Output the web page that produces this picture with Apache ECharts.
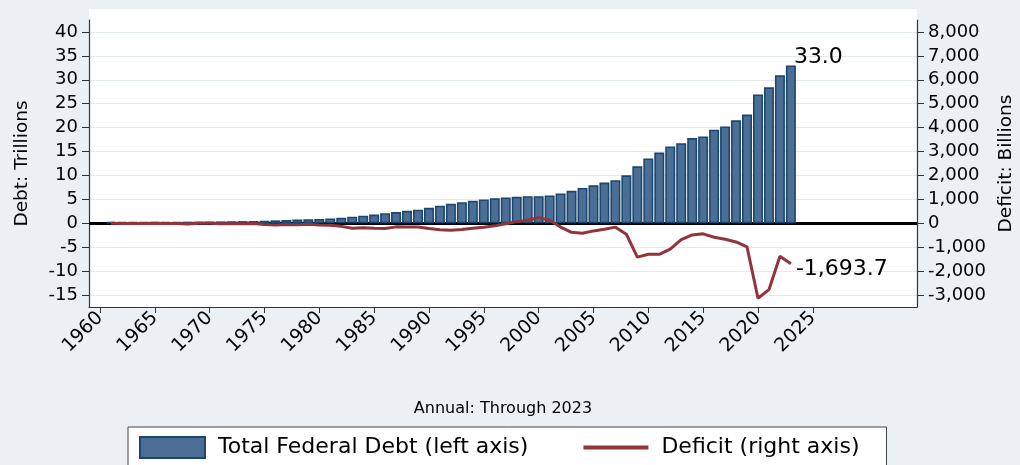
<!DOCTYPE html>
<html>
<head>
<meta charset="utf-8">
<script src="https://cdn.jsdelivr.net/npm/echarts@6/dist/echarts.min.js"></script>
<style>
  html, body { margin: 0; padding: 0; background: #eaf0f3; }
  #chart { width: 1020px; height: 465px; }
</style>
</head>
<body>
<div id="chart"></div>
<script>
  // 数据
  const years = [1961, 1962, 1963, 1964, 1965, 1966, 1967, 1968, 1969, 1970,
    1971, 1972, 1973, 1974, 1975, 1976, 1977, 1978, 1979, 1980,
    1981, 1982, 1983, 1984, 1985, 1986, 1987, 1988, 1989, 1990,
    1991, 1992, 1993, 1994, 1995, 1996, 1997, 1998, 1999, 2000,
    2001, 2002, 2003, 2004, 2005, 2006, 2007, 2008, 2009, 2010,
    2011, 2012, 2013, 2014, 2015, 2016, 2017, 2018, 2019, 2020,
    2021, 2022, 2023];
  // 债务（万亿）
  const debt = [0.289, 0.298, 0.306, 0.312, 0.317, 0.320, 0.326, 0.348, 0.354, 0.371,
    0.398, 0.427, 0.458, 0.475, 0.533, 0.620, 0.699, 0.772, 0.827, 0.908,
    0.998, 1.142, 1.377, 1.572, 1.823, 2.125, 2.350, 2.602, 2.857, 3.233,
    3.665, 4.065, 4.411, 4.693, 4.974, 5.225, 5.413, 5.526, 5.656, 5.674,
    5.807, 6.228, 6.783, 7.379, 7.933, 8.507, 9.008, 10.025, 11.910, 13.562,
    14.790, 16.066, 16.738, 17.824, 18.151, 19.573, 20.245, 21.516, 22.719, 26.945,
    28.429, 30.929, 33.0];
  // 赤字（十亿）
  const deficit = [-3.3, -7.1, -4.8, -5.9, -1.4, -3.7, -8.6, -25.2, 3.2, -2.8,
    -23.0, -23.4, -14.9, -6.1, -53.2, -73.7, -53.7, -59.2, -40.7, -73.8,
    -79.0, -128.0, -207.8, -185.4, -212.3, -221.2, -149.7, -155.2, -152.6, -221.0,
    -269.2, -290.3, -255.1, -203.2, -164.0, -107.4, -21.9, 69.3, 125.6, 236.2,
    128.2, -157.8, -377.6, -412.7, -318.3, -248.2, -160.7, -458.6, -1412.7, -1294.4,
    -1299.6, -1076.6, -679.5, -484.6, -442.0, -584.7, -665.8, -779.1, -983.6, -3132.5,
    -2775.3, -1375.9, -1693.7];
  const yearTicks = [1960, 1965, 1970, 1975, 1980, 1985, 1990, 1995, 2000, 2005, 2010, 2015, 2020, 2025];
  const debtTicks = [-15, -10, -5, 0, 5, 10, 15, 20, 25, 30, 35, 40];
  const deficitTicks = [-3000, -2000, -1000, 0, 1000, 2000, 3000, 4000, 5000, 6000, 7000, 8000];

  const font = 'DejaVu Sans';
  const last = years.length - 1;
  const fmtNum = (v) => v.toLocaleString('en-US', { minimumFractionDigits: 1, maximumFractionDigits: 1 });

  const myChart = echarts.init(document.getElementById('chart'));
  const option = {
    backgroundColor: '#eaf0f3',
    animation: false,
    textStyle: { fontFamily: font },
    graphic: [
      {
        type: 'rect',
        z: -10,
        silent: true,
        shape: { x: 89, y: 9, width: 828, height: 298 },
        style: { fill: '#ffffff' },
      },
    ],
    grid: {
      left: 89,
      right: 103,
      top: 20,
      bottom: 158,
      outerBoundsMode: 'none',
    },
    xAxis: {
      type: 'value',
      min: 1959,
      max: 2034.5,
      name: 'Annual: Through 2023',
      nameLocation: 'middle',
      nameGap: 94,
      nameTextStyle: { fontSize: 16, color: '#000', fontFamily: font },
      axisLine: { show: true, onZero: false, lineStyle: { color: '#333', width: 1.2 } },
      axisTick: { show: true, customValues: yearTicks, length: 6, lineStyle: { color: '#333' } },
      axisLabel: {
        customValues: yearTicks,
        rotate: 45,
        fontSize: 19,
        margin: 8,
        color: '#000',
        fontFamily: font,
        formatter: (v) => String(v),
      },
      splitLine: { show: false },
    },
    yAxis: [
      {
        type: 'value',
        position: 'left',
        min: -17.5,
        max: 42.5,
        name: 'Debt: Trillions',
        nameLocation: 'middle',
        nameRotate: 90,
        nameGap: 57,
        nameTextStyle: { fontSize: 18.5, color: '#000', fontFamily: font },
        axisLine: { show: true, lineStyle: { color: '#333', width: 1.2 } },
        axisTick: { show: true, customValues: debtTicks, length: 7, lineStyle: { color: '#333' } },
        axisLabel: { customValues: debtTicks, fontSize: 18, margin: 11, color: '#000', fontFamily: font },
        splitLine: { show: true, lineStyle: { color: '#e3eaee', width: 1 } },
      },
      {
        type: 'value',
        position: 'right',
        min: -3500,
        max: 8500,
        name: 'Deficit: Billions',
        nameLocation: 'middle',
        nameRotate: 90,
        nameGap: 80,
        nameTextStyle: { fontSize: 18.5, color: '#000', fontFamily: font },
        axisLine: { show: true, lineStyle: { color: '#333', width: 1.2 } },
        axisTick: { show: true, customValues: deficitTicks, length: 7, lineStyle: { color: '#333' } },
        axisLabel: {
          customValues: deficitTicks,
          fontSize: 18,
          margin: 11,
          color: '#000',
          fontFamily: font,
          formatter: (v) => v.toLocaleString('en-US'),
        },
        splitLine: { show: false },
      },
    ],
    legend: {
      left: 128,
      top: 427,
      orient: 'horizontal',
      padding: [9, 27, 12, 11],
      backgroundColor: '#ffffff',
      borderColor: '#444',
      borderWidth: 1,
      borderRadius: 0,
      itemWidth: 65,
      itemHeight: 21,
      itemGap: 53,
      textStyle: { fontSize: 22, color: '#000', fontFamily: font, padding: [0, 0, 0, 8] },
      data: [
        { name: 'Total Federal Debt (left axis)', icon: 'rect' },
        { name: 'Deficit (right axis)', itemStyle: { opacity: 0 }, lineStyle: { width: 4 } },
      ],
    },
    series: [
      {
        name: 'Total Federal Debt (left axis)',
        type: 'bar',
        yAxisIndex: 0,
        z: 2,
        barWidth: 10,
        data: years.map((y, i) => [y, debt[i]]),
        itemStyle: { color: '#4c6e94', borderColor: '#1a476f', borderWidth: 1.6 },
        label: {
          show: true,
          position: ['100%', 0],
          align: 'left',
          verticalAlign: 'middle',
          offset: [-2, -8],
          fontSize: 22,
          color: '#000',
          fontFamily: font,
          formatter: (p) => (p.dataIndex === last ? fmtNum(debt[last]) : ''),
        },
        markLine: {
          silent: true,
          z: 1,
          symbol: ['none', 'none'],
          label: { show: false },
          lineStyle: { color: '#000', width: 3, type: 'solid' },
          data: [{ yAxis: 0 }],
        },
      },
      {
        name: 'Deficit (right axis)',
        type: 'line',
        yAxisIndex: 1,
        z: 3,
        symbol: 'none',
        data: years.map((y, i) => [y, deficit[i]]),
        color: '#90353b',
        lineStyle: { color: '#90353b', width: 3 },
        label: { show: false },
        endLabel: {
          show: true,
          distance: 5,
          offset: [0, 5],
          fontSize: 22,
          color: '#000',
          fontFamily: font,
          formatter: () => fmtNum(deficit[last]),
        },
      },
    ],
  };
  myChart.setOption(option);
</script>
</body>
</html>
